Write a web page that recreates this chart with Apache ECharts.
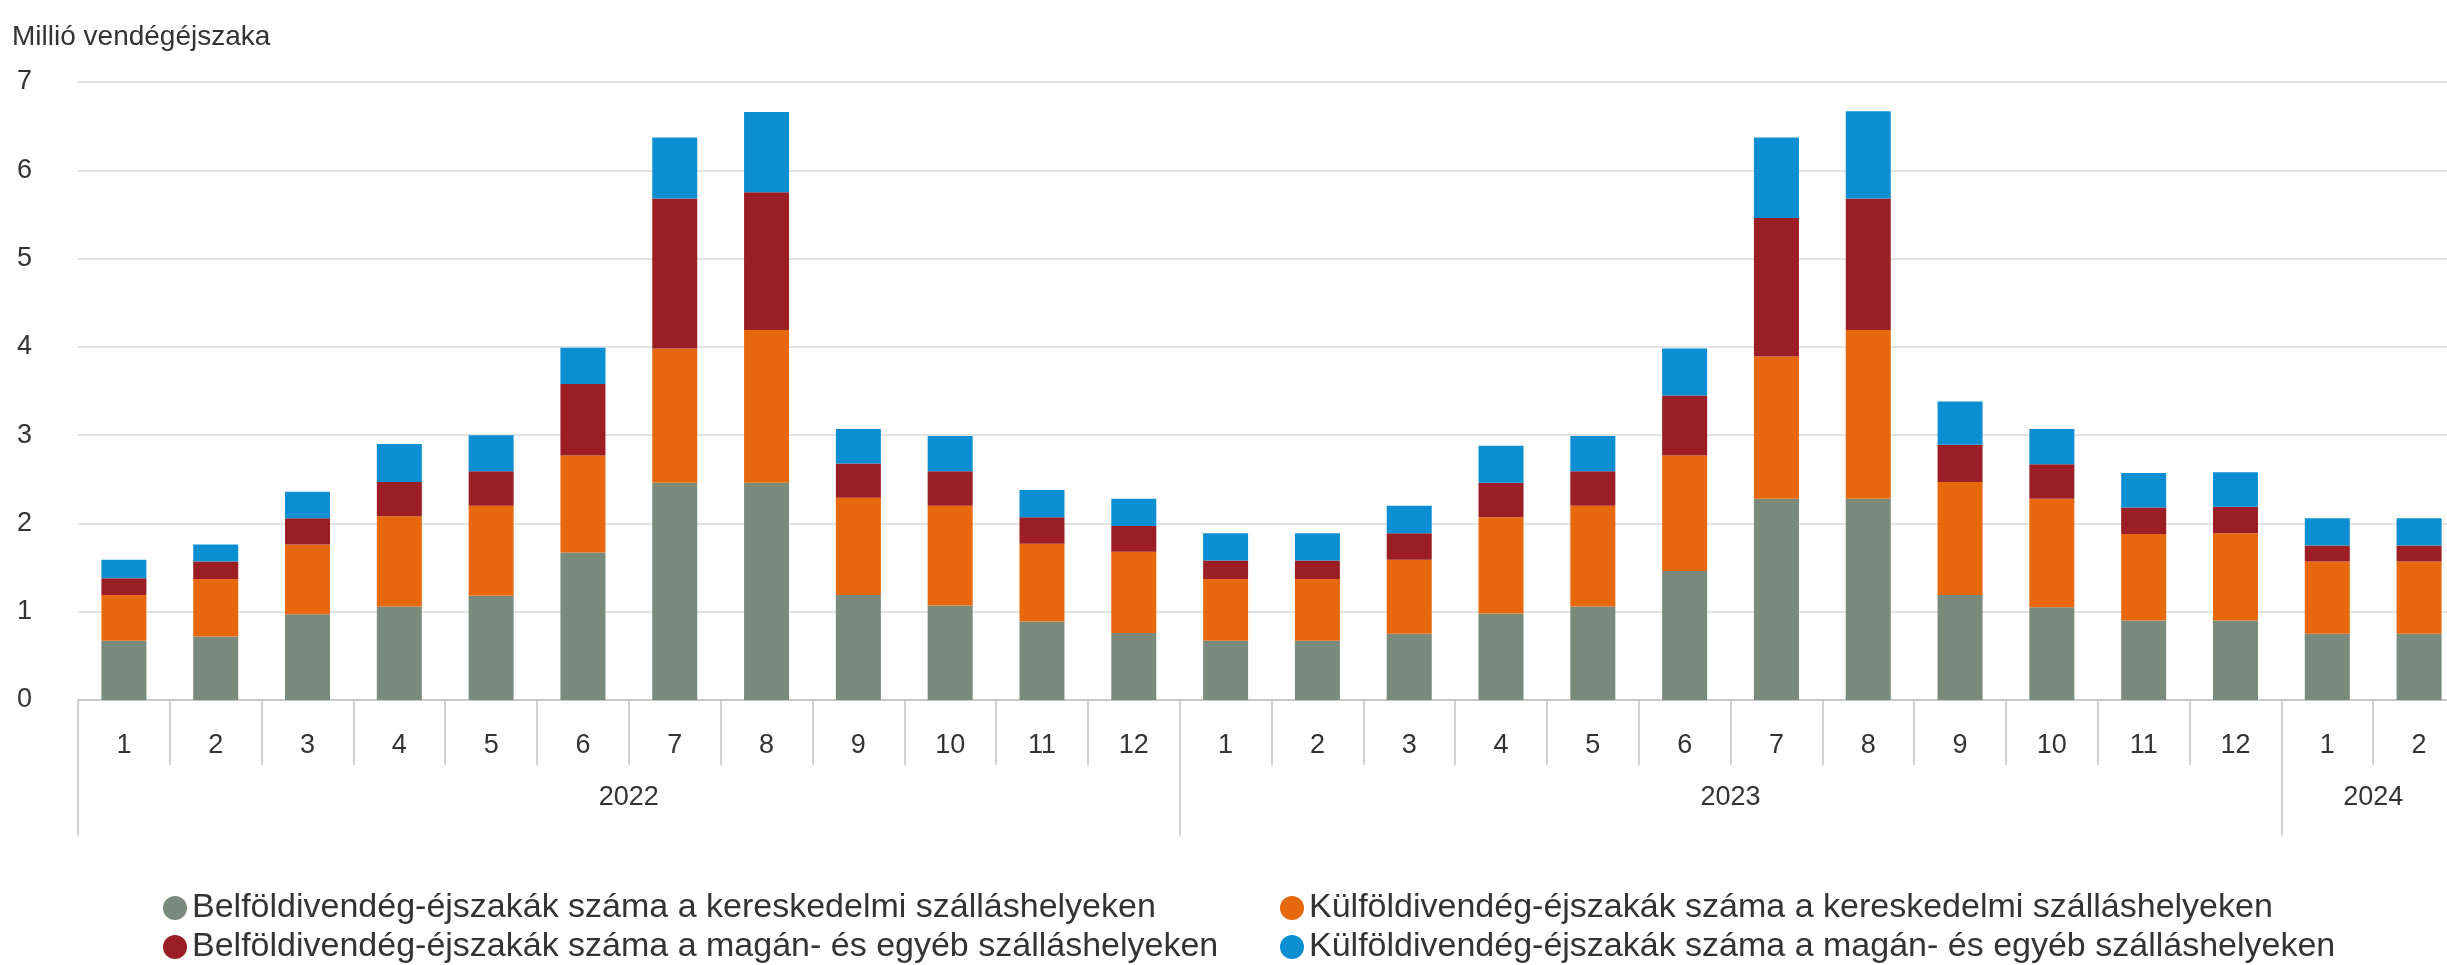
<!DOCTYPE html>
<html lang="hu">
<head>
<meta charset="utf-8">
<title>Vendégéjszakák száma</title>
<script src="https://cdn.jsdelivr.net/npm/echarts@6/dist/echarts.min.js"></script>
<style>
  html, body { margin: 0; padding: 0; background: #ffffff; }
  #chart { width: 2447px; height: 965px; }
</style>
</head>
<body>
<div id="chart"></div>
<script>
// Months along the axis (2022-01 … 2024-02)
const months = ['1','2','3','4','5','6','7','8','9','10','11','12',
                '1','2','3','4','5','6','7','8','9','10','11','12',
                '1','2'];
// Year groups shown under the months, with the number of months in each
const years = ['2022', '2023', '2024'];
const yearSpans = [12, 12, 2];

// Million guest nights
const belfoldKereskedelmi = [0.67, 0.72, 0.97, 1.06, 1.18, 1.67, 2.46, 2.46, 1.19, 1.07, 0.89, 0.76,
                             0.67, 0.67, 0.75, 0.98, 1.06, 1.46, 2.28, 2.28, 1.19, 1.05, 0.90, 0.90,
                             0.75, 0.75];
const kulfoldKereskedelmi = [0.52, 0.65, 0.79, 1.02, 1.02, 1.10, 1.52, 1.73, 1.10, 1.13, 0.88, 0.92,
                             0.70, 0.70, 0.84, 1.09, 1.14, 1.31, 1.61, 1.91, 1.28, 1.23, 0.98, 0.99,
                             0.82, 0.82];
const belfoldMagan = [0.19, 0.20, 0.30, 0.39, 0.39, 0.81, 1.70, 1.56, 0.39, 0.39, 0.30, 0.29,
                      0.21, 0.21, 0.30, 0.39, 0.39, 0.68, 1.57, 1.49, 0.42, 0.39, 0.30, 0.30,
                      0.18, 0.18];
const kulfoldMagan = [0.21, 0.19, 0.30, 0.43, 0.41, 0.41, 0.69, 0.91, 0.39, 0.40, 0.31, 0.31,
                      0.31, 0.31, 0.31, 0.42, 0.40, 0.53, 0.91, 0.99, 0.49, 0.40, 0.39, 0.39,
                      0.31, 0.31];

const seriesNames = [
  'Belföldivendég-éjszakák száma a kereskedelmi szálláshelyeken',
  'Külföldivendég-éjszakák száma a kereskedelmi szálláshelyeken',
  'Belföldivendég-éjszakák száma a magán- és egyéb szálláshelyeken',
  'Külföldivendég-éjszakák száma a magán- és egyéb szálláshelyeken'
];
const seriesData = [belfoldKereskedelmi, kulfoldKereskedelmi, belfoldMagan, kulfoldMagan];
const colors = ['#7a8a7d', '#e8680e', '#9a1e23', '#0b8ed2'];

// Year boundaries and label centres on a continuous 0..N scale
const yearBounds = [0];
const yearCentres = {};
yearSpans.forEach((span, i) => {
  const start = yearBounds[yearBounds.length - 1];
  yearCentres[start + span / 2] = years[i];
  yearBounds.push(start + span);
});

const FONT = '"Liberation Sans", Arial, sans-serif';
const TEXT = '#333333';

// Two stacked legend columns
const legendBase = {
  orient: 'vertical',
  top: 891,
  height: 73,
  padding: 0,
  itemGap: 5,
  itemWidth: 24,
  itemHeight: 24,
  icon: 'circle',
  textStyle: { fontFamily: FONT, fontSize: 34, lineHeight: 34, color: TEXT }
};

const chart = echarts.init(document.getElementById('chart'), null, { renderer: 'canvas' });

chart.setOption({
  backgroundColor: '#ffffff',
  animation: false,
  color: colors,
  title: {
    text: 'Millió vendégéjszaka',
    left: 12,
    top: 23,
    padding: 0,
    textStyle: { fontFamily: FONT, fontSize: 28, fontWeight: 'normal', color: TEXT }
  },
  grid: {
    left: 78,
    right: -18,
    top: 82,
    bottom: 265,
    containLabel: false,
    outerBoundsMode: 'none'
  },
  legend: [
    Object.assign({}, legendBase, { data: [seriesNames[0], seriesNames[2]], left: 163 }),
    Object.assign({}, legendBase, { data: [seriesNames[1], seriesNames[3]], left: 1280 })
  ],
  xAxis: [
    {
      type: 'category',
      data: months,
      position: 'bottom',
      boundaryGap: true,
      axisLine: { show: true, lineStyle: { color: '#c8c8c8', width: 2 } },
      axisTick: { show: true, length: 65, lineStyle: { color: '#c4c4c4', width: 1.5 } },
      axisLabel: { interval: 0, margin: 32, fontFamily: FONT, fontSize: 27, color: TEXT }
    },
    {
      type: 'value',
      min: 0,
      max: months.length,
      position: 'bottom',
      axisLine: { show: false },
      splitLine: { show: false },
      axisTick: {
        show: true,
        length: 136,
        customValues: yearBounds.slice(0, -1),
        lineStyle: { color: '#c4c4c4', width: 1.5 }
      },
      axisLabel: {
        margin: 84,
        customValues: Object.keys(yearCentres).map(Number),
        formatter: v => yearCentres[v] || '',
        fontFamily: FONT, fontSize: 27, color: TEXT
      }
    }
  ],
  yAxis: {
    type: 'value',
    min: 0,
    max: 7,
    interval: 1,
    axisLine: { show: false },
    axisTick: { show: false },
    splitLine: { lineStyle: { color: '#e3e3e3', width: 2 } },
    axisLabel: { margin: 46, fontFamily: FONT, fontSize: 27, color: TEXT }
  },
  series: seriesNames.map((name, i) => ({
    name: name,
    type: 'bar',
    stack: 'total',
    xAxisIndex: 0,
    barWidth: 45,
    data: seriesData[i],
    itemStyle: { color: colors[i] }
  }))
});
</script>
</body>
</html>
